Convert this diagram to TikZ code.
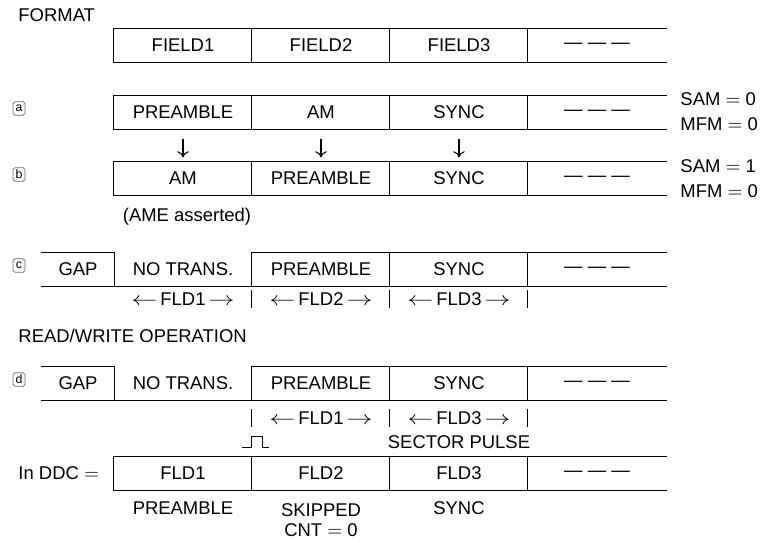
\documentclass[tikz,border=0pt]{standalone}
\usepackage{fontspec}
\setmainfont{Liberation Sans}
\usepackage{graphicx}
\usepackage{tikz}
\usetikzlibrary{arrows.meta,calc,positioning}

\newcommand{\tratti}{--- --- ---}
\newcommand{\campo}[1]{\scalebox{1.35}[1]{$\leftarrow$}\,#1\,\scalebox{1.35}[1]{$\rightarrow$}}
\tikzset{
  cella/.style={minimum width=2.76cm, minimum height=0.66cm, inner sep=0pt},
  cgap/.style={cella, minimum width=1.44cm},
  lettera/.style={draw=black!60, rounded corners=1pt, line width=0.4pt, inner sep=0.5pt,
    minimum width=0.24cm, minimum height=0.27cm, font=\fontsize{7}{8}\selectfont},
  freccia/.style={-{To[length=3.5pt,width=6.5pt]}, line width=0.6pt, shorten <=0.18cm, shorten >=0.08cm},
  tacca/.style={line width=0.5pt},
}

\begin{document}
\begin{tikzpicture}[x=0.02cm, y=-0.02cm, line width=0.7pt,
  every node/.style={font=\fontsize{10.5}{11.6}\selectfont}]
\useasboundingbox (0,0) rectangle (760,543);
% FORMAT
\node[anchor=west] (tfor) at (12,15) {FORMAT};
\node[cella] (f1) at (183,45.5) {FIELD1};
\node[cella] (f2) at (321,45.5) {FIELD2};
\node[cella] (f3) at (459,45.5) {FIELD3};
\node[cella] (f4) at (597,45.5) {\tratti};
\draw (f4.north east) -- (f1.north west) -- (f1.south west) -- (f4.south east);
\draw (f2.north west) -- (f2.south west);
\draw (f3.north west) -- (f3.south west);
\draw (f4.north west) -- (f4.south west);
% caso a
\node[lettera] (ma) at (19,108.5) {a};
\node[cella] (a1) at (183,112.5) {PREAMBLE};
\node[cella] (a2) at (321,112.5) {AM};
\node[cella] (a3) at (459,112.5) {SYNC};
\node[cella] (a4) at (597,112.5) {\tratti};
\draw (a4.north east) -- (a1.north west) -- (a1.south west) -- (a4.south east);
\draw (a2.north west) -- (a2.south west);
\draw (a3.north west) -- (a3.south west);
\draw (a4.north west) -- (a4.south west);
\node[anchor=west] (sama) at (674,99) {SAM $=$ 0};
\node[anchor=west] (mfma) at (674,124) {MFM $=$ 0};
% caso b
\node[lettera] (mb) at (19,174.5) {b};
\node[cella] (b1) at (183,178.5) {AM};
\node[cella] (b2) at (321,178.5) {PREAMBLE};
\node[cella] (b3) at (459,178.5) {SYNC};
\node[cella] (b4) at (597,178.5) {\tratti};
\draw (b4.north east) -- (b1.north west) -- (b1.south west) -- (b4.south east);
\draw (b2.north west) -- (b2.south west);
\draw (b3.north west) -- (b3.south west);
\draw (b4.north west) -- (b4.south west);
\node[anchor=west] (samb) at (674,166) {SAM $=$ 1};
\node[anchor=west] (mfmb) at (674,191) {MFM $=$ 0};
\node (ame) at (187,217) {(AME asserted)};
% scambio a -> b
\draw[freccia] (a1) -- (b1);
\draw[freccia] (a2) -- (b2);
\draw[freccia] (a3) -- (b3);
% caso c
\node[lettera] (mc) at (19,265.5) {c};
\node[cgap] (c0) at (78,269.5) {GAP};
\node[cella] (c1) at (183,269.5) {NO TRANS.};
\node[cella] (c2) at (321,269.5) {PREAMBLE};
\node[cella] (c3) at (459,269.5) {SYNC};
\node[cella] (c4) at (597,269.5) {\tratti};
\draw (c0.south west) -- (c4.south east);
\draw (c0.north west) -- (c0.north east) -- (c0.south east);
\draw (c4.north east) -- (c2.north west) -- (c2.south west);
\draw (c3.north west) -- (c3.south west);
\draw (c4.north west) -- (c4.south west);
\node (cl1) at (183,299) {\campo{FLD1}};
\node (cl2) at (321,299) {\campo{FLD2}};
\node (cl3) at (459,299) {\campo{FLD3}};
\draw[tacca] ($(c2.south west |- cl1)+(0,-9)$) -- ++(0,18);
\draw[tacca] ($(c3.south west |- cl1)+(0,-9)$) -- ++(0,18);
\draw[tacca] ($(c4.south west |- cl1)+(0,-9)$) -- ++(0,18);
% lettura/scrittura
\node[anchor=west] (trw) at (12,336) {READ/WRITE OPERATION};
\node[lettera] (md) at (19,379.5) {d};
\node[cgap] (d0) at (78,383.5) {GAP};
\node[cella] (d1) at (183,383.5) {NO TRANS.};
\node[cella] (d2) at (321,383.5) {PREAMBLE};
\node[cella] (d3) at (459,383.5) {SYNC};
\node[cella] (d4) at (597,383.5) {\tratti};
\draw (d0.south west) -- (d4.south east);
\draw (d0.north west) -- (d0.north east) -- (d0.south east);
\draw (d4.north east) -- (d2.north west) -- (d2.south west);
\draw (d3.north west) -- (d3.south west);
\draw (d4.north west) -- (d4.south west);
\node (dl1) at (321,418) {\campo{FLD1}};
\node (dl3) at (459,418) {\campo{FLD3}};
\draw[tacca] ($(d2.south west |- dl1)+(0,-9)$) -- ++(0,18);
\draw[tacca] ($(d3.south west |- dl1)+(0,-9)$) -- ++(0,18);
\draw[tacca] ($(d4.south west |- dl1)+(0,-9)$) -- ++(0,18);
% impulso di settore
\coordinate (imp) at ($(d2.south west)+(0,47)$);
\draw[tacca] (imp) ++(-9,0) -- ++(9,0) -- ++(0,-11) -- ++(11,0) -- ++(0,11) -- ++(7,0);
\node (sp) at (459,442) {SECTOR PULSE};
% contenuto DDC
\node[anchor=west] (ddc) at (12,473) {In DDC $=$};
\node[cella] (e1) at (183,473.5) {FLD1};
\node[cella] (e2) at (321,473.5) {FLD2};
\node[cella] (e3) at (459,473.5) {FLD3};
\node[cella] (e4) at (597,473.5) {\tratti};
\draw (e4.north east) -- (e1.north west) -- (e1.south west) -- (e4.south east);
\draw (e2.north west) -- (e2.south west);
\draw (e3.north west) -- (e3.south west);
\draw (e4.north west) -- (e4.south west);
\node (p1) at (183,508) {PREAMBLE};
\node[align=center, anchor=north] (p2) at (321,497) {SKIPPED\\CNT $=$ 0};
\node (p3) at (459,508) {SYNC};
\end{tikzpicture}
\end{document}
